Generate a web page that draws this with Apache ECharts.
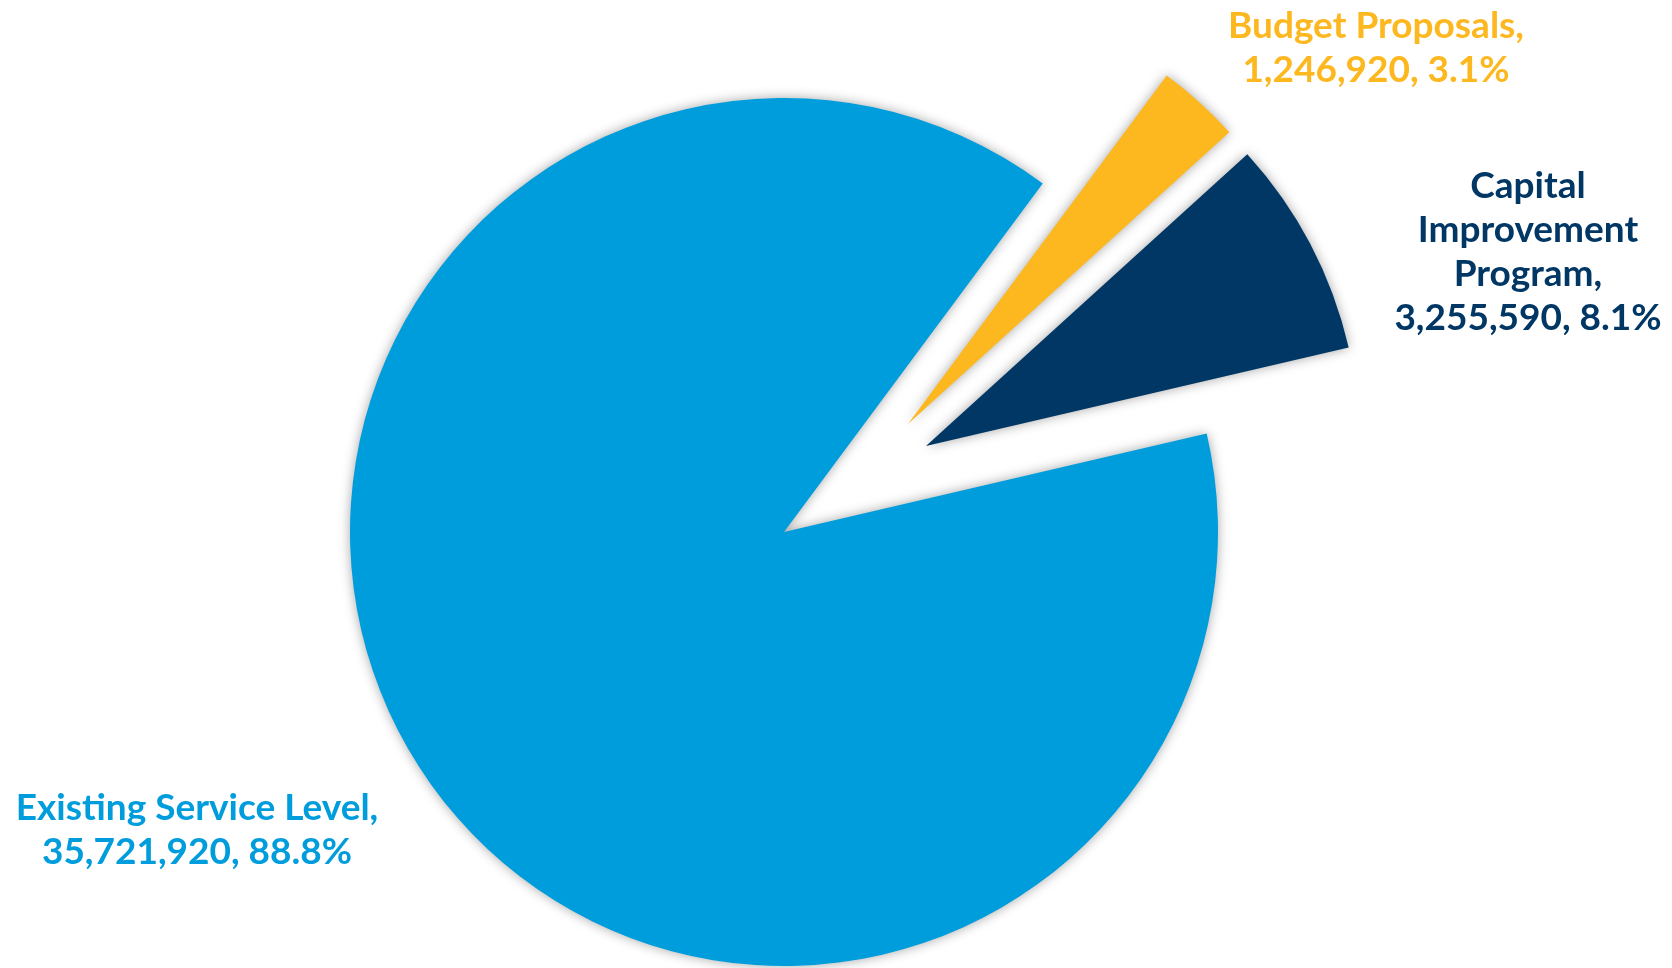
<!DOCTYPE html>
<html>
<head>
<meta charset="utf-8">
<title>Budget Composition</title>
<script src="https://cdn.jsdelivr.net/npm/echarts@6/dist/echarts.min.js"></script>
<style>
  html, body { margin: 0; padding: 0; background: #ffffff; }
  #chart { width: 1672px; height: 968px; }
</style>
</head>
<body>
<div id="chart"></div>
<script>
// Slice categories, in drawing order (clockwise from the start angle)
const categories = ['Budget Proposals', 'Capital Improvement Program', 'Existing Service Level'];
// Amounts per category
const amounts = [1246920, 3255590, 35721920];
// Slice and label colours
const colors = ['#FDB71F', '#003764', '#009DDC'];
// Label lines per category (name split where it wraps; ZWNJ keeps "ti" unligated)
const labelNames = [
  ['Budget Proposals,'],
  ['Capital', 'Improvement', 'Program,'],
  ['Exis\u200Cting Service Level,']
];

// ---- layout (not data) ----
const pieCenter = [784, 532];
const pieRadius = 434;
const startAngle = 53.4;
// how far each slice is pulled out from the centre, in px
const sliceShift = [[124, -108], [142, -86], [0, 0]];
// label anchor points (centre of each text block)
const labelPos = [[1376, 48], [1528, 252], [197, 830]];

const total = amounts.reduce((a, b) => a + b, 0);
const fmt = n => n.toLocaleString('en-US');

// One pie series per slice, each with the full data so the angles are shared;
// only the owning slice is painted, the others stay transparent.
const series = categories.map((owner, k) => ({
  type: 'pie',
  name: owner,
  center: [pieCenter[0] + sliceShift[k][0], pieCenter[1] + sliceShift[k][1]],
  radius: [0, pieRadius],
  startAngle: startAngle,
  clockwise: true,
  silent: true,
  z: 2,
  label: { show: false },
  labelLine: { show: false },
  emphasis: { disabled: true },
  data: categories.map((name, i) => ({
    name: name,
    value: amounts[i],
    itemStyle: i === k ? {
      color: colors[i],
      borderWidth: 0,
      shadowBlur: 12,
      shadowColor: 'rgba(0,0,0,0.35)'
    } : {
      color: 'rgba(0,0,0,0)',
      borderWidth: 0,
      shadowBlur: 0,
      shadowColor: 'rgba(0,0,0,0)'
    }
  }))
}));

// Slice labels: name, amount and share of the total
const labels = categories.map((name, i) => {
  const pct = (amounts[i] / total * 100).toFixed(1);
  return {
    type: 'text',
    z: 10,
    silent: true,
    style: {
      text: labelNames[i].join('\n') + '\n' + fmt(amounts[i]) + ', ' + pct + '%',
      x: labelPos[i][0],
      y: labelPos[i][1],
      fill: colors[i],
      fontFamily: 'Lato',
      fontWeight: 'bold',
      fontSize: 37,
      lineHeight: 44,
      align: 'center',
      verticalAlign: 'middle'
    }
  };
});

const chart = echarts.init(document.getElementById('chart'), null, { renderer: 'canvas' });

chart.setOption({
  animation: false,
  backgroundColor: '#ffffff',
  series: series,
  graphic: labels
});
</script>
</body>
</html>
